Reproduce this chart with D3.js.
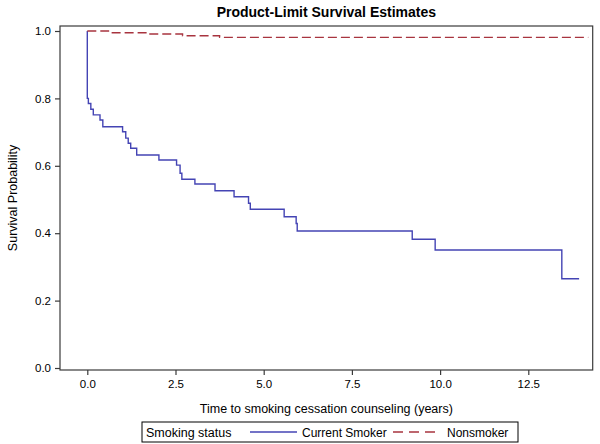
<!DOCTYPE html>
<html>
<head>
<meta charset="utf-8">
<script src="https://cdn.jsdelivr.net/npm/d3@7"></script>
<style>
  html, body { margin: 0; padding: 0; background: #fff; }
  svg { display: block; }
  text { font-family: "Liberation Sans", Arial, sans-serif; fill: #000; }
</style>
</head>
<body>
<svg id="chart" width="600" height="444"></svg>
<script>
// ---- data ----
const title = "Product-Limit Survival Estimates";
const xLabel = "Time to smoking cessation counseling (years)";
const yLabel = "Survival Probability";
const legendTitle = "Smoking status";
const seriesNames = ["Current Smoker", "Nonsmoker"];

const xTicks = [0, 2.5, 5, 7.5, 10, 12.5];
const yTicks = [0, 0.2, 0.4, 0.6, 0.8, 1.0];

const smokerTime = [0, 0, 0.03, 0.10, 0.17, 0.36, 0.44, 1.00, 1.09, 1.16, 1.23, 1.40, 2.03, 2.53, 2.63, 2.68, 3.05, 3.62, 4.16, 4.57, 4.62, 5.58, 5.92, 5.95, 9.21, 9.86, 13.45, 13.94];
const smokerSurv = [1.0, 0.800, 0.785, 0.768, 0.751, 0.736, 0.716, 0.701, 0.682, 0.667, 0.652, 0.632, 0.617, 0.602, 0.578, 0.560, 0.546, 0.526, 0.508, 0.489, 0.471, 0.449, 0.429, 0.4065, 0.382, 0.350, 0.265, 0.265];

const nonsmokerTime = [0, 0.6, 1.7, 2.7, 3.75, 14.2];
const nonsmokerSurv = [1.0, 0.995, 0.991, 0.986, 0.981, 0.981];

// ---- layout ----
const colors = ["#4444b4", "#a8343f"];
const frame = { left: 60, top: 26, right: 592.7, bottom: 370 };

const svg = d3.select("#chart");

const x = d3.scaleLinear().domain([0, 12.5]).range([87.3, 528.3]);
const y = d3.scaleLinear().domain([0, 1]).range([368, 31]);

// frame
svg.append("rect")
  .attr("x", frame.left).attr("y", frame.top)
  .attr("width", frame.right - frame.left).attr("height", frame.bottom - frame.top)
  .attr("fill", "none").attr("stroke", "#3a3a3a").attr("stroke-width", 1.2);

// axes
const xAxis = d3.axisBottom(x).tickValues(xTicks).tickSize(5).tickSizeOuter(0)
  .tickFormat(d3.format(".1f"));
const gx = svg.append("g").attr("transform", `translate(0,${frame.bottom})`).call(xAxis);
gx.select(".domain").remove();
gx.selectAll("line").attr("stroke", "#3a3a3a").attr("stroke-width", 1.2);
gx.selectAll("text").attr("font-size", "11.5px").attr("font-family", "Liberation Sans, Arial, sans-serif")
  .attr("fill", "#000").attr("dy", "0.95em").attr("y", 7);

const yAxis = d3.axisLeft(y).tickValues(yTicks).tickSize(5).tickSizeOuter(0)
  .tickFormat(d3.format(".1f"));
const gy = svg.append("g").attr("transform", `translate(${frame.left},0)`).call(yAxis);
gy.select(".domain").remove();
gy.selectAll("line").attr("stroke", "#3a3a3a").attr("stroke-width", 1.2);
gy.selectAll("text").attr("font-size", "11.5px").attr("font-family", "Liberation Sans, Arial, sans-serif")
  .attr("fill", "#000").attr("x", -9);

// titles
svg.append("text").attr("x", (frame.left + frame.right) / 2).attr("y", 17)
  .attr("text-anchor", "middle").attr("font-size", "14px").attr("font-weight", "bold").text(title);

svg.append("text").attr("x", (frame.left + frame.right) / 2).attr("y", 413)
  .attr("text-anchor", "middle").attr("font-size", "12.5px").text(xLabel);

svg.append("text").attr("transform", `translate(17,${(frame.top + frame.bottom) / 2}) rotate(-90)`)
  .attr("text-anchor", "middle").attr("font-size", "12.5px").text(yLabel);

// curves
const line = d3.line().x(d => x(d[0])).y(d => y(d[1])).curve(d3.curveStepAfter);
const smoker = smokerTime.map((t, i) => [t, smokerSurv[i]]);
const nonsmoker = nonsmokerTime.map((t, i) => [t, nonsmokerSurv[i]]);

svg.append("path").datum(smoker).attr("d", line)
  .attr("fill", "none").attr("stroke", colors[0]).attr("stroke-width", 1.4);
svg.append("path").datum(nonsmoker).attr("d", line)
  .attr("fill", "none").attr("stroke", colors[1]).attr("stroke-width", 1.4)
  .attr("stroke-dasharray", "9,4");

// legend
const lg = svg.append("g");
lg.append("rect").attr("x", 142).attr("y", 422).attr("width", 376).attr("height", 20)
  .attr("fill", "#fff").attr("stroke", "#000").attr("stroke-width", 1);
lg.append("text").attr("x", 146).attr("y", 436.5).attr("font-size", "12.5px").text(legendTitle);
lg.append("line").attr("x1", 250).attr("x2", 297).attr("y1", 432).attr("y2", 432)
  .attr("stroke", colors[0]).attr("stroke-width", 1.4);
lg.append("text").attr("x", 302).attr("y", 436.5).attr("font-size", "12px").text(seriesNames[0]);
lg.append("line").attr("x1", 393).attr("x2", 435).attr("y1", 432).attr("y2", 432)
  .attr("stroke", colors[1]).attr("stroke-width", 1.4).attr("stroke-dasharray", "10,6");
lg.append("text").attr("x", 447).attr("y", 436.5).attr("font-size", "12px").text(seriesNames[1]);
</script>
</body>
</html>
